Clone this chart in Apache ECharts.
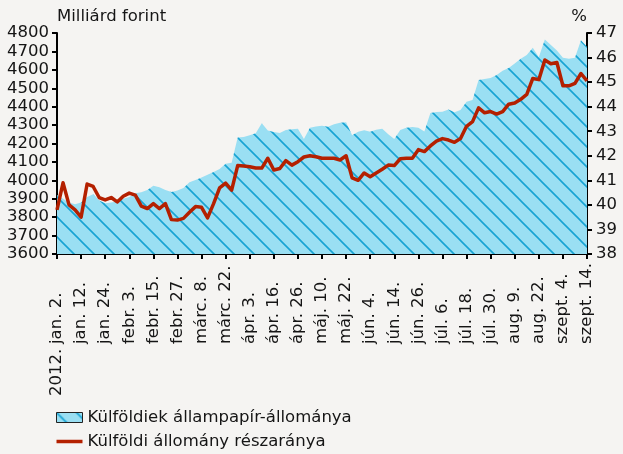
<!DOCTYPE html>
<html>
<head>
<meta charset="utf-8">
<script src="https://cdn.jsdelivr.net/npm/echarts@6/dist/echarts.min.js"></script>
<style>
  html, body { margin: 0; padding: 0; background: #F5F4F2; }
  #chart { width: 623px; height: 454px; }
</style>
</head>
<body>
<div id="chart"></div>
<script>
// Tick labels along the time axis (one every 8 trading days, 2012)
const tickLabels = ['jan. 2.', 'jan. 12.', 'jan. 24.', 'febr. 3.', 'febr. 15.', 'febr. 27.',
  'márc. 8.', 'márc. 22.', 'ápr. 3.', 'ápr. 16.', 'ápr. 26.', 'máj. 10.', 'máj. 22.',
  'jún. 4.', 'jún. 14.', 'jún. 26.', 'júl. 6.', 'júl. 18.', 'júl. 30.', 'aug. 9.',
  'aug. 22.', 'szept. 4.', 'szept. 14.'];
const yearLabel = '2012.';
const pointsPerTick = 4;

// Non-resident holdings of government securities, billion HUF
const holdings = [
  3920, 3900, 3880, 3870, 3880, 3910, 3925, 3890, 3875, 3880,
  3885, 3900, 3910, 3930, 3935, 3948, 3970, 3962, 3948, 3937,
  3945, 3958, 3990, 4002, 4015, 4030, 4045, 4062, 4090, 4095,
  4232, 4235, 4245, 4255, 4310, 4270, 4262, 4257, 4273, 4278,
  4280, 4225, 4285, 4292, 4296, 4291, 4305, 4312, 4316, 4245,
  4264, 4272, 4264, 4275, 4280, 4250, 4225, 4273, 4285, 4290,
  4285, 4265, 4366, 4371, 4373, 4385, 4370, 4382, 4427, 4436,
  4545, 4550, 4556, 4572, 4595, 4610, 4635, 4660, 4680, 4720,
  4668, 4765, 4735, 4705, 4665, 4660, 4665, 4760, 4725
];

// Non-resident share of holdings, %
const share = [
  39.8, 40.9, 40.0, 39.8, 39.5, 40.85, 40.75, 40.3, 40.2, 40.3,
  40.12, 40.35, 40.48, 40.4, 39.95, 39.85, 40.05, 39.85, 40.05, 39.4,
  39.38, 39.45, 39.7, 39.93, 39.9, 39.47, 40.05, 40.69, 40.89, 40.6,
  41.6, 41.58, 41.55, 41.5, 41.5, 41.9, 41.42, 41.48, 41.8, 41.62,
  41.76, 41.95, 42.0, 41.96, 41.9, 41.9, 41.9, 41.83, 42.0, 41.1,
  41.0, 41.3, 41.15, 41.3, 41.45, 41.62, 41.6, 41.88, 41.9, 41.9,
  42.25, 42.17, 42.4, 42.6, 42.7, 42.64, 42.55, 42.7, 43.2, 43.39,
  43.95, 43.75, 43.8, 43.7, 43.8, 44.1, 44.15, 44.3, 44.5, 45.15,
  45.1, 45.9, 45.75, 45.8, 44.85, 44.85, 44.95, 45.35, 45.05
];

const seriesNames = ['Külföldiek állampapír-állománya', 'Külföldi állomány részaránya'];
const leftAxisName = 'Milliárd forint';
const rightAxisName = '%';

// Category slots: a label on every tick position, blanks between
const categories = holdings.map((_, i) => (i % pointsPerTick === 0 ? tickLabels[i / pointsPerTick] : ''));

// Diagonal hatch fill for the holdings area
function makeHatch() {
  const c = document.createElement('canvas');
  c.width = 20; c.height = 20;
  const g = c.getContext('2d');
  g.fillStyle = '#9ADFF3';
  g.fillRect(0, 0, 20, 20);
  g.strokeStyle = '#17A3D3';
  g.lineWidth = 1.6;
  g.beginPath();
  [-20, 0, 20].forEach(k => { g.moveTo(k - 2, -2); g.lineTo(k + 22, 22); });
  g.stroke();
  return { image: c, repeat: 'repeat' };
}
const hatch = makeHatch();

const FONT = 'DejaVu Sans';
const FS = 16.5;
const TXT = '#151515';
const RED = '#B42000';

const chart = echarts.init(document.getElementById('chart'), null, { renderer: 'canvas' });
chart.setOption({
  backgroundColor: '#F5F4F2',
  animation: false,
  textStyle: { fontFamily: FONT },
  grid: { left: 57, right: 36, top: 33, bottom: 200, containLabel: false },
  legend: {
    orient: 'vertical',
    left: 56,
    top: 409,
    padding: 0,
    itemWidth: 26,
    itemHeight: 10,
    itemGap: 7,
    symbolKeepAspect: true,
    textStyle: { fontFamily: FONT, fontSize: FS, color: TXT },
    data: [
      { name: seriesNames[0], icon: 'rect', itemStyle: { color: hatch, borderColor: '#222', borderWidth: 1 } },
      { name: seriesNames[1], icon: 'path://M0,0h26v3.5h-26z', itemStyle: { color: RED, borderWidth: 0 } }
    ]
  },
  xAxis: [
    {
      type: 'category',
      data: categories,
      boundaryGap: false,
      axisLine: { onZero: false, lineStyle: { color: '#000', width: 2 } },
      axisTick: { interval: pointsPerTick - 1, length: 5, inside: false, lineStyle: { color: '#000', width: 2 } },
      axisLabel: {
        interval: 0, rotate: 90, align: 'left', verticalAlign: 'middle', margin: 90,
        fontFamily: FONT, fontSize: FS, color: TXT
      },
      splitLine: { show: false }
    },
    {
      type: 'category',
      data: categories,
      boundaryGap: false,
      position: 'bottom',
      axisLine: { show: false },
      axisTick: { show: false },
      axisLabel: {
        interval: 0, rotate: 90, align: 'left', verticalAlign: 'middle', margin: 142,
        fontFamily: FONT, fontSize: FS, color: TXT,
        formatter: (v, i) => (i === 0 ? yearLabel : '')
      },
      splitLine: { show: false }
    }
  ],
  yAxis: [
    {
      type: 'value', min: 3600, max: 4800, interval: 100, position: 'left',
      name: leftAxisName, nameLocation: 'end', nameGap: 16,
      nameTextStyle: { align: 'left', verticalAlign: 'middle', fontFamily: FONT, fontSize: FS, color: TXT },
      axisLine: { show: true, lineStyle: { color: '#000', width: 2 } },
      axisTick: { show: true, length: 5, lineStyle: { color: '#000', width: 2 } },
      axisLabel: { margin: 8, fontFamily: FONT, fontSize: FS, color: TXT, formatter: v => String(v) },
      splitLine: { show: false }
    },
    {
      type: 'value', min: 38, max: 47, interval: 1, position: 'right',
      name: rightAxisName, nameLocation: 'end', nameGap: 16,
      nameTextStyle: { align: 'right', verticalAlign: 'middle', fontFamily: FONT, fontSize: FS, color: TXT },
      axisLine: { show: true, lineStyle: { color: '#000', width: 2 } },
      axisTick: { show: true, length: 5, lineStyle: { color: '#000', width: 2 } },
      axisLabel: { margin: 9, fontFamily: FONT, fontSize: FS, color: TXT, formatter: v => String(v) },
      splitLine: { show: false }
    }
  ],
  series: [
    {
      name: seriesNames[0],
      type: 'line',
      xAxisIndex: 0, yAxisIndex: 0,
      data: holdings,
      symbol: 'none',
      lineStyle: { width: 0 },
      itemStyle: { color: '#9ADFF3' },
      areaStyle: { color: hatch, opacity: 1, origin: 'start' },
      z: 1
    },
    {
      name: seriesNames[1],
      type: 'line',
      xAxisIndex: 0, yAxisIndex: 1,
      data: share,
      symbol: 'none',
      lineStyle: { color: RED, width: 3.5, join: 'round' },
      itemStyle: { color: RED },
      z: 3
    }
  ]
});
</script>
</body>
</html>
